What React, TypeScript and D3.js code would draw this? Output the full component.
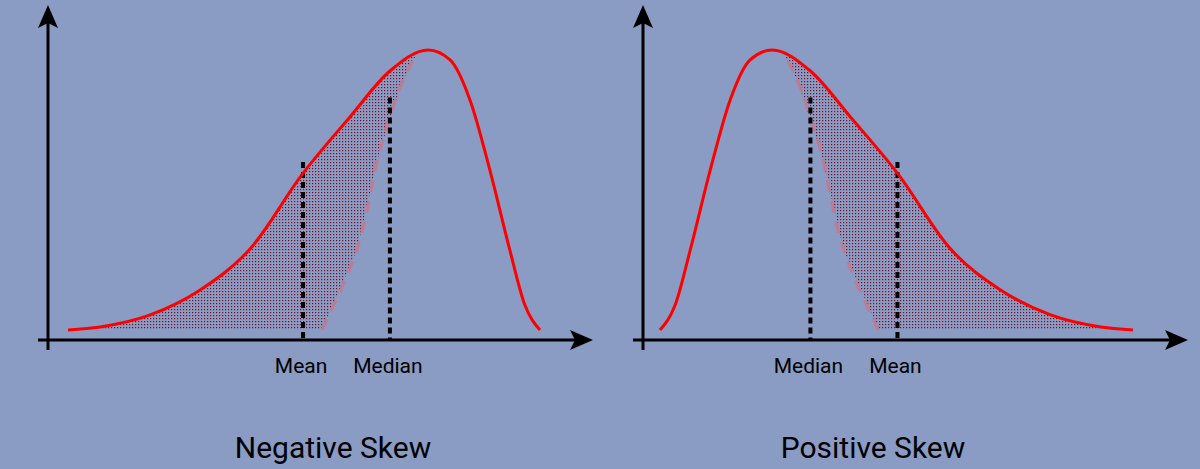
import React from "react";
import * as d3 from "d3";

const curveX = [0, 6.8, 17.4, 28, 38.6, 49.8, 59.7, 68.2, 76.3, 81, 85.2, 89.4, 93.6, 96.8, 100];
const curveY = [0, 0.011, 0.054, 0.143, 0.29, 0.56, 0.76, 0.925, 1.0, 0.964, 0.82, 0.57, 0.286, 0.089, 0];
const boundX = [53.8, 61.2, 66.1, 71, 74];
const boundY = [0, 0.286, 0.643, 0.893, 0.99];
const meanX = 49.8, meanTop = 0.6;
const medianX = 68.2, medianTop = 0.83;

function Panel({ ox, flip, title, id, titleX }: { ox: number; flip: boolean; title: string; id: string; titleX: number }) {
  const x = d3.scaleLinear().domain(flip ? [100, 0] : [0, 100]).range(flip ? [ox + 17, ox + 490] : [ox + 20, ox + 492]);
  const y = d3.scaleLinear().domain([0, 1]).range([330, 50]);
  const pts: [number, number][] = curveX.map((v, i) => [x(v), y(curveY[i])]);
  const cur = d3.curveMonotoneX;
  const line = d3.line().curve(cur)(flip ? [...pts].reverse() : pts)!;
  const area = d3.area().curve(cur).y0(y(0)).x(d => d[0]).y1(d => d[1])(flip ? [...pts].reverse() : pts)!;
  const bpts: [number, number][] = boundX.map((v, i) => [x(v), y(boundY[i])]);
  const bline = d3.line().curve(d3.curveCatmullRom)(bpts)!;
  const clipPts = [[x(0), y(0) + 5], ...bpts.map(p => [p[0], p[1]]), [x(74), y(1.2)], [x(0), y(1.2)]];
  const clip = "M" + clipPts.map(p => p.join(",")).join("L") + "Z";
  const axX = ox, axY = 340;
  const labels = [
    { v: meanX, t: "Mean", top: meanTop },
    { v: medianX, t: "Median", top: medianTop },
  ];
  return (
    <g>
      <defs>
        <clipPath id={"c" + id}><path d={clip} /></clipPath>
      </defs>
      <path d={area} fill="url(#dots)" clipPath={`url(#c${id})`} />
      <path d={bline} fill="none" stroke="#c07a92" strokeWidth={3} strokeDasharray="12 9" />
      {labels.map(l => (
        <g key={l.t}>
          <line x1={x(l.v)} x2={x(l.v)} y1={y(l.top)} y2={axY} stroke="#000" strokeWidth={4} strokeDasharray="6 4" />
          <text x={x(l.v) - 2} y={373} fontSize={21} textAnchor="middle" fontFamily="Roboto" fill="#000">{l.t}</text>
        </g>
      ))}
      <path d={line} fill="none" stroke="#ff0000" strokeWidth={3} />
      <line x1={axX - 10} x2={axX + 530} y1={axY} y2={axY} stroke="#000" strokeWidth={3} />
      <path d={`M${axX + 545},${axY} L${axX + 522},${axY - 10} L${axX + 527},${axY} L${axX + 522},${axY + 10}Z`} fill="#000" />
      <line x1={axX} x2={axX} y1={350} y2={20} stroke="#000" strokeWidth={3} />
      <path d={`M${axX},${5} L${axX - 10},${28} L${axX},${23} L${axX + 10},${28}Z`} fill="#000" />
      <text x={titleX} y={458} fontSize={30} textAnchor="middle" fontFamily="Roboto" fill="#000">{title}</text>
    </g>
  );
}

export default function App() {
  return (
    <svg width={1200} height={469} style={{ position: "absolute", left: 0, top: 0 }}>
      <defs>
        <pattern id="dots" width={3} height={3} patternUnits="userSpaceOnUse">
          <rect width={3} height={3} fill="#8a9bc4" />
          <rect width={1.2} height={1.2} fill="#7a1020" />
        </pattern>
      </defs>
      <rect width={1200} height={469} fill="#8a9bc4" />
      <Panel ox={48} flip={false} title="Negative Skew" id="l" titleX={333} />
      <Panel ox={643} flip={true} title="Positive Skew" id="r" titleX={873} />
    </svg>
  );
}
